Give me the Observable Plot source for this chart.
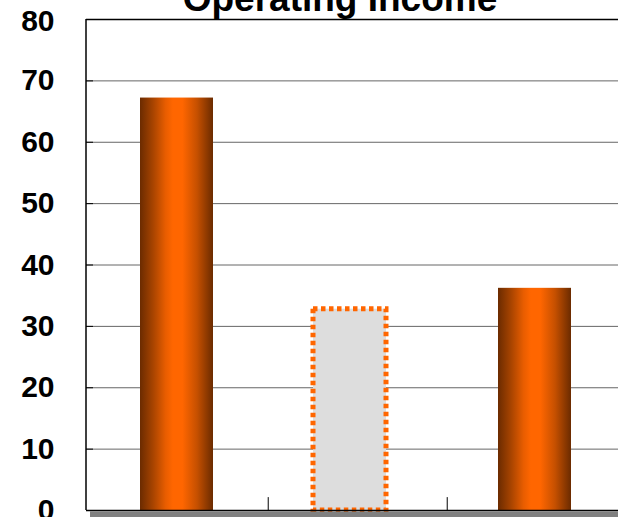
<!DOCTYPE html>
<html>
<head>
<meta charset="utf-8">
<script src="https://cdn.jsdelivr.net/npm/d3@7"></script>
<script src="https://cdn.jsdelivr.net/npm/@observablehq/plot@0.6"></script>
<style>
  html, body { margin: 0; padding: 0; background: #fff; overflow: hidden; }
  #chart { position: relative; width: 618px; height: 517px; }
  #chart svg { position: absolute; left: 0; top: 0; }
</style>
</head>
<body>
<div id="chart"></div>
<script>
const title = "Operating Income";
const categories = ["Prior Year", "Plan", "Current Year"];
const values = [67.2, 32.8, 36.2];
const kinds = ["actual", "plan", "actual"];
const yTicks = [0, 10, 20, 30, 40, 50, 60, 70, 80];

const data = categories.map((c, i) => ({category: c, value: values[i], kind: kinds[i]}));
const actual = data.filter(d => d.kind === "actual");
const plan = data.filter(d => d.kind === "plan");

const W = 618, H = 517;
const xRange = [86, 625];
const paddingInner = 0.59, paddingOuter = 0.296;
const step = (xRange[1] - xRange[0]) / (categories.length - paddingInner + 2 * paddingOuter);

const plot = Plot.plot({
  width: W,
  height: H,
  marginLeft: 86,
  marginRight: 0,
  marginTop: 19,
  marginBottom: 7,
  style: {background: "transparent", fontFamily: "'Liberation Sans', Arial, sans-serif", overflow: "visible"},
  x: {domain: categories, range: xRange, paddingInner, paddingOuter, axis: null},
  y: {domain: [0, 80], ticks: yTicks},
  marks: [
    Plot.gridY(yTicks, {stroke: "#666", strokeOpacity: 1, strokeWidth: 1}),
    Plot.ruleY([80], {stroke: "#000", strokeWidth: 1.5}),
    Plot.tickY(yTicks, {y: d => d, x: () => categories[0], stroke: "#000", strokeWidth: 1}),
    Plot.barY(actual, {x: "category", y: "value", fill: "url(#orangeGrad)"}),
    Plot.barY(plan, {x: "category", y: "value", fill: "#dddddd", stroke: "#ff6600",
      strokeWidth: 5, strokeDasharray: "4.5 3.5", dx: -6}),
    Plot.ruleY([0], {stroke: "#808080", strokeWidth: 6, dy: 4, dx: 4}),
    Plot.ruleY([0], {stroke: "#000", strokeWidth: 1.5}),
    Plot.ruleX(categories.slice(1), {x: d => d, dx: -step / 2 + 2, y1: 0, y2: 2.1, stroke: "#000", strokeWidth: 1}),
    Plot.axisY(yTicks, {tickSize: 0, tickPadding: 32, fontSize: 30, fontWeight: "bold", fill: "#000", label: null})
  ]
});

const svg = d3.select(plot);
// left frame line
svg.append("line").attr("x1", 86).attr("x2", 86).attr("y1", 19).attr("y2", 510)
  .attr("stroke", "#000").attr("stroke-width", 1.5);

// title (cut off at the top edge as in the reference)
svg.append("text").attr("x", 340).attr("y", 11).attr("text-anchor", "middle")
  .attr("font-family", "'Liberation Sans', Arial, sans-serif").attr("font-weight", "bold")
  .attr("font-size", 37).attr("fill", "#000").text(title);

// gradient defs for the cylinder-like bars
const defs = svg.insert("defs", ":first-child");
const g = defs.append("linearGradient").attr("id", "orangeGrad")
  .attr("x1", "0").attr("x2", "1").attr("y1", "0").attr("y2", "0");
[[0, "#6b2b00"], [0.18, "#a84400"], [0.35, "#e85d00"], [0.45, "#ff6600"],
 [0.58, "#ff6600"], [0.78, "#c65000"], [1, "#6b2b00"]]
  .forEach(([o, c]) => g.append("stop").attr("offset", o).attr("stop-color", c));

// short tick marks inside the frame at the left
svg.selectAll("g[aria-label='tick'] line").each(function() {
  d3.select(this).attr("x1", 86).attr("x2", 93);
});

// the top label sits slightly lower, as in the reference
svg.selectAll("g[aria-label='y-axis tick label'] text").each(function() {
  const t = d3.select(this);
  if (t.text() === "80") t.attr("dy", (parseFloat(t.attr("dy")) || 0) + 2);
});

document.getElementById("chart").appendChild(plot);
</script>
</body>
</html>
